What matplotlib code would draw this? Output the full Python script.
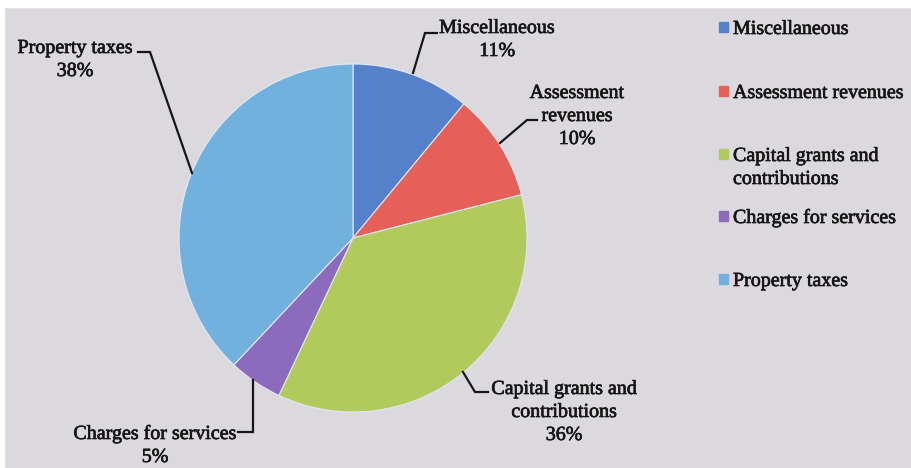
import matplotlib
matplotlib.use("Agg")  # headless
import matplotlib.pyplot as plt
from matplotlib.patches import Rectangle
import matplotlib.patheffects as pe

W, H = 911, 468  # canvas in pixels, we draw in image pixel coordinates

categories = ["Miscellaneous", "Assessment revenues",
              "Capital grants and contributions", "Charges for services",
              "Property taxes"]
shares = [11, 10, 36, 5, 38]
colors = ["#5481c9", "#e6605a", "#b2ca5c", "#8c6bbc", "#72b0de"]
slice_text = ["Miscellaneous", "Assessment\nrevenues",
              "Capital grants and\ncontributions", "Charges for services",
              "Property taxes"]
legend_text = ["Miscellaneous", "Assessment revenues",
               "Capital grants and\ncontributions", "Charges for services",
               "Property taxes"]

BG = "#dbd9de"
INK = "#161616"
FONT = "Liberation Serif"
FS = 14.4
STEP = 23  # line step in px

# label layout: (centre x, first baseline y) and leader path, all in image px
label_pos = [(497, 33), (577, 98), (564, 394), (155, 439), (75, 53)]
leaders = [
    [(437, 33), (425, 33), (413, 73)],
    [(537, 120), (527, 120), (500, 143)],
    [(463, 372), (475, 392), (488, 392)],
    [(238, 432), (253, 432), (253, 380)],
    [(138, 52), (150, 52), (192, 173)],
]
legend_baselines = [34, 98, 161, 223, 286]


def fy(y):
    """image y (top-down) -> data y (bottom-up)"""
    return H - y


def put_lines(ax, x, y0, text, ha="center"):
    for i, line in enumerate(text.split("\n")):
        ax.text(x, fy(y0 + i * STEP), line, ha=ha, va="baseline",
                fontsize=FS, family=FONT, color=INK,
                path_effects=[pe.withStroke(linewidth=0.5, foreground=INK)])


fig = plt.figure(figsize=(W / 100, H / 100), dpi=100)
fig.patch.set_facecolor(BG)
ax = fig.add_axes([0, 0, 1, 1])

# white scan margin on top / left
ax.add_patch(Rectangle((0, fy(7)), W, 7, color="white", zorder=0))
ax.add_patch(Rectangle((0, 0), 4, H, color="white", zorder=0))

wedges, _ = ax.pie(shares, colors=colors, startangle=90, counterclock=False,
                   center=(353, fy(238)), radius=174, frame=True,
                   wedgeprops=dict(linewidth=0.8, edgecolor="#e2e8f2"))
ax.set_xlim(0, W)
ax.set_ylim(0, H)
ax.set_aspect("equal")
ax.axis("off")

for i, txt in enumerate(slice_text):
    x, y0 = label_pos[i]
    put_lines(ax, x, y0, f"{txt}\n{shares[i]}%")
    xs = [p[0] for p in leaders[i]]
    ys = [fy(p[1]) for p in leaders[i]]
    ax.plot(xs, ys, color=INK, lw=1.6, solid_joinstyle="miter")

# legend, drawn by hand to keep the uneven spacing of the original
for i, txt in enumerate(legend_text):
    yb = legend_baselines[i]
    ax.add_patch(Rectangle((719, fy(yb - 2)), 9, 10, color=colors[i]))
    put_lines(ax, 733, yb, txt, ha="left")

fig.savefig("out.png", dpi=100, facecolor=BG)
